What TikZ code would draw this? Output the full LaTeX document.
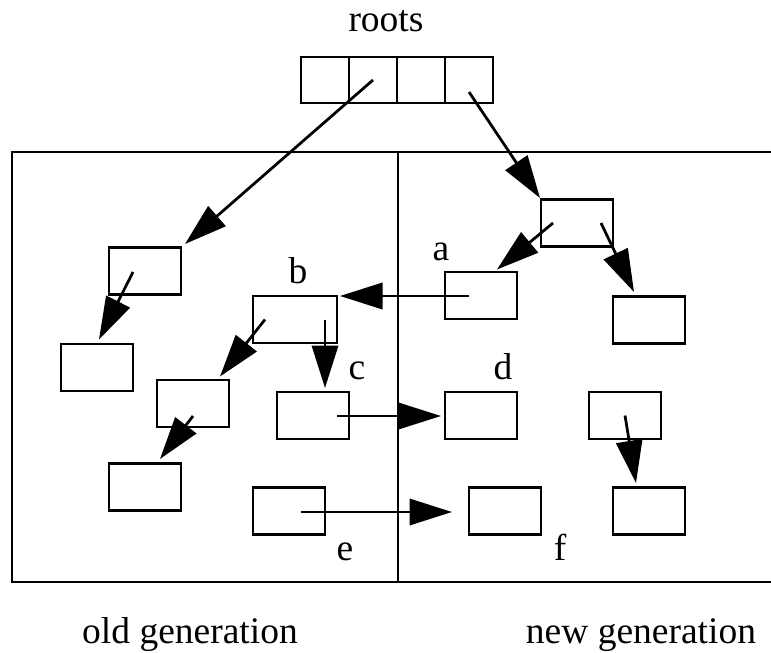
\documentclass[tikz,border=0pt]{standalone}
\usepackage{fontspec}
\setmainfont{Liberation Serif}
\usetikzlibrary{arrows.meta}
\begin{document}
\begin{tikzpicture}[x=0.4pt,y=-0.4pt,
    obj/.style={draw,line width=1.1pt,minimum width=28.8pt,minimum height=18.8pt,inner sep=0pt},
    cell/.style={draw,line width=1.1pt,minimum width=19.2pt,minimum height=18.4pt,inner sep=0pt},
    lbl/.style={anchor=base,inner sep=0pt},
    ptr/.style={line width=1.1pt,-{Triangle[length=17pt,width=10.5pt]}},
    font=\fontsize{15}{18}\selectfont]
      \useasboundingbox (0,0) rectangle (771,652);
      % the heap, split into two generations
      \draw[line width=1.1pt] (771,152) -- (12,152) -- (12,582) -- (771,582);
      \draw[line width=1.1pt] (398,152) -- (398,582);
      % root set
      \draw
        (325,80) node[cell] (r1){}
        (373,80) node[cell] (r2){}
        (421,80) node[cell] (r3){}
        (469,80) node[cell] (r4){};
      % objects
      \draw
        (145,271) node[obj] (o1){}
        (97,367.5) node[obj] (o2){}
        (295,319.5) node[obj,minimum width=33.6pt] (ob){}
        (193,403.5) node[obj] (o3){}
        (313,415.5) node[obj] (oc){}
        (145,487) node[obj] (o4){}
        (289,511) node[obj] (oe){}
        (577,223) node[obj] (n1){}
        (481,295.5) node[obj] (na){}
        (649,320) node[obj] (n2){}
        (481,415.5) node[obj] (nd){}
        (625,415.5) node[obj] (n3){}
        (505,511) node[obj] (nf){}
        (649,511) node[obj] (n4){};
      % labels
      \draw
        (386,32) node[lbl] (roots){roots}
        (441,260) node[lbl] (la){a}
        (298,283) node[lbl] (lb){b}
        (357,379) node[lbl] (lc){c}
        (503,379) node[lbl] (ld){d}
        (345,560) node[lbl] (le){e}
        (560,560) node[lbl] (lf){f}
        (190,643) node[lbl] (old){old generation}
        (641,643) node[lbl] (new){new generation};
      \begin{scope}[ptr]
        \draw (r2.center) to ([shift={(40,-27)}]o1.center);
        \draw ([shift={(0,12)}]r4.center) to ([shift={(-37,-25)}]n1.center);
        \draw ([shift={(-24,0)}]n1.center) to ([shift={(16,-26)}]na.center);
        \draw ([shift={(24,0)}]n1.center) to ([shift={(-15,-28)}]n2.center);
        \draw ([shift={(-12,0.5)}]na.center) to ([shift={(45,-23.5)}]ob.center);
        \draw ([shift={(-12,1)}]o1.center) to ([shift={(2,-28)}]o2.center);
        \draw ([shift={(-30,0)}]ob.center) to ([shift={(27,-27)}]o3.center);
        \draw ([shift={(30,0.5)}]ob.center) to ([shift={(12,-27.5)}]oc.center);
        \draw ([shift={(0,12.5)}]o3.center) to ([shift={(15,-28)}]o4.center);
        \draw ([shift={(24,0.5)}]oc.center) to ([shift={(-40,0.5)}]nd.center);
        \draw ([shift={(12,1)}]oe.center) to ([shift={(-53,1)}]nf.center);
        \draw (n3.center) to ([shift={(-13,-28)}]n4.center);
      \end{scope}
    \end{tikzpicture}
\end{document}
